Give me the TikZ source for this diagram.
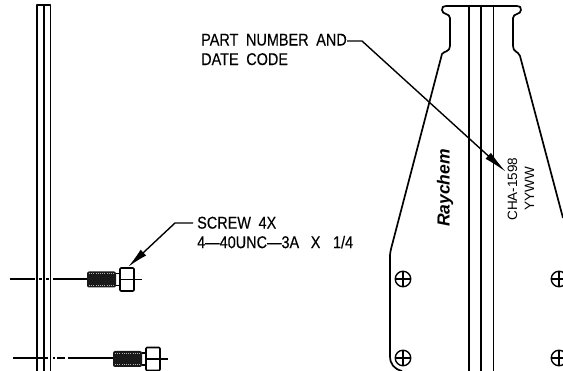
\documentclass[tikz,border=0pt]{standalone}
\usepackage{fontspec}
\setmainfont{Liberation Sans}
\newfontfamily\cadfont[FakeStretch=0.85,WordSpace=1.9,FakeBold=0.25]{Liberation Sans}
\usetikzlibrary{arrows.meta}
\tikzset{
  part/.style={draw=black,line width=1.7pt,line join=round},
  thin part/.style={draw=black,line width=1.3pt},
  center line/.style={draw=black,line width=1.4pt},
  leader/.style={draw=black,line width=1.4pt},
  cadtext/.style={inner sep=0pt,anchor=west,font=\cadfont\fontsize{17}{19.5}\selectfont,align=left},
  hole/.style={circle,draw=black,line width=1.4pt,minimum size=15.500pt,inner sep=0pt,
     path picture={\draw[black,line width=1.2pt] (path picture bounding box.west)--(path picture bounding box.east)
       (path picture bounding box.north)--(path picture bounding box.south);}}
}
\newcommand{\screwat}[2]{%
  \begin{scope}[shift={(#1,#2)}]
    \fill[black!90,rounded corners=2pt] (0,-8) rectangle (29,8);
    \draw[white!70!black,line width=0.8pt,dash pattern=on 1pt off 1.2pt] (2,-5.8)--(27,-5.8) (2,5.8)--(27,5.8);
    \draw[part,line width=1.3pt] (29,-6)--(33,-6)--(33,6)--(29,6);
    \draw[part,rounded corners=1pt,fill=white] (33,-11.5)rectangle(47,11.5);
    \draw[center line] (33,0)--(55,0);
  \end{scope}}
\begin{document}
\begin{tikzpicture}[x=1pt,y=-1pt]
\useasboundingbox (0,0) rectangle (563,371);
\draw[part] (37,371)--(37,5)--(50.500,5)--(50.500,371);
\draw[thin part] (44,5)--(44,371);
\draw[center line] (10,279)--(35,279) (39,279)--(42,279) (46,279)--(49,279) (53,279)--(87,279);
\screwat{87}{279.5}
\draw[center line] (13,358)--(48,358) (53,358)--(55,358) (57,358)--(65,358) (68,358)--(113,358);
\screwat{113}{359}
\coordinate (screwtip) at (128,267);
\coordinate (screwelbow) at (175,223);
\node[cadtext] (screwlabel) at (197,232.500) {SCREW 4X\\4—40UNC—3A\hspace{4pt} X\hspace{5pt} 1/4};
\draw[leader,-{Latex[length=21pt,width=8pt]}] (193,223)--(screwelbow)--(screwtip);
\node[cadtext] (partlabel) at (201,49.500) {PART NUMBER AND\\DATE CODE};
\coordinate (parttip) at (506,172);
\coordinate (partelbow) at (362,41);
\draw[leader,-{Latex[length=24pt,width=8pt]}] (347,41)--(partelbow)--(parttip);
\draw[part] (402,371)
  .. controls (394,369) and (390,364) .. (390,356)
  -- (390,260) .. controls (390,255) and (390,252) .. (391,249)
  -- (442,54) .. controls (444,51) and (450,52) .. (450,46)
  -- (450,18) .. controls (450,13) and (442,15) .. (442,10)
  .. controls (442,7) and (443,6) .. (446,6)
  -- (517,6) .. controls (520,6) and (521,7) .. (521,10)
  .. controls (521,15) and (513,13) .. (513,18)
  -- (513,46) .. controls (513,52) and (518,51) .. (520,56)
  -- (563,218);
\draw[part] (469,6)--(469,371);
\draw[part] (481,6)--(481,371);
\draw[thin part] (493.500,6)--(493.500,371);
\node[hole] (h1) at (403,279) {};
\node[hole] (h2) at (403,358) {};
\node[hole] (h3) at (559,279) {};
\node[hole] (h4) at (559,358) {};
\node[rotate=90,font=\bfseries\itshape\fontsize{17.5}{20}\selectfont,inner sep=0pt] (brand) at (445,188) {Raychem};
\node[rotate=90,font=\fontsize{13.500}{17}\selectfont,align=center,inner sep=0pt] (code) at (521,189) {CHA-1598\\YYWW};
\end{tikzpicture}
\end{document}
